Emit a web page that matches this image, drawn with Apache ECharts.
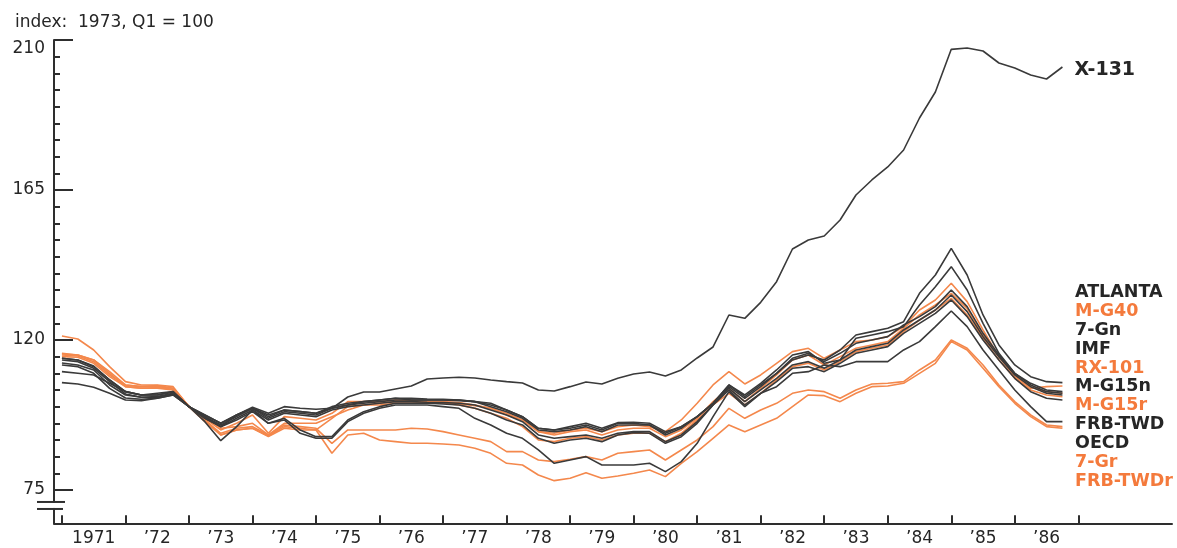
<!DOCTYPE html>
<html>
<head>
<meta charset="utf-8">
<script src="https://cdn.jsdelivr.net/npm/echarts@6/dist/echarts.min.js"></script>
<style>
  html, body { margin: 0; padding: 0; background: #ffffff; }
  #chart { width: 1177px; height: 548px; }
</style>
</head>
<body>
<div id="chart"></div>
<script>
// Exchange-rate indexes of the dollar, quarterly, 1971 Q1 .. 1986 Q4 (index: 1973 Q1 = 100)
const startYear = 1971;
const yearLabels = ['1971', '\u201972', '\u201973', '\u201974', '\u201975', '\u201976', '\u201977', '\u201978',
                    '\u201979', '\u201980', '\u201981', '\u201982', '\u201983', '\u201984', '\u201985', '\u201986'];
const yMajorTicks = [75, 120, 165, 210];
const yMinorTicks = [75, 80, 85, 90, 95, 100, 105, 110, 115, 120, 125, 130, 135, 140, 145, 150,
                     155, 160, 165, 170, 175, 180, 185, 190, 195, 200, 205, 210];

const x131 = [107.2, 106.8, 105.8, 104, 102, 101.8, 102.5, 103.5,
  100, 97.5, 95, 97.5, 99.8, 98, 100, 99.5,
  99.2, 99.5, 102.9, 104.4, 104.4, 105.3, 106.2, 108.3,
  108.6, 108.8, 108.6, 108, 107.5, 107.1, 105, 104.7,
  106, 107.4, 106.8, 108.5, 109.8, 110.4, 109.2, 111,
  114.6, 117.9, 127.5, 126.5, 131.3, 137.5, 147.3, 150,
  151.2, 156, 163.5, 168, 171.9, 177, 186.6, 194.4,
  207.2, 207.6, 206.7, 203.1, 201.6, 199.5, 198.3, 201.9];

const atlanta = [110.5, 110, 109.5, 107, 104.5, 103.5, 103.5, 104.3,
  100, 97, 94, 97.5, 99.5, 97, 99, 98.5,
  98, 100, 101, 101.5, 102, 102.5, 102, 102,
  102, 101.8, 101.5, 101, 99, 97, 93.5, 93,
  94, 95, 93.5, 95.2, 95.3, 95, 92.5, 94,
  97, 101, 106.5, 103, 106.5, 110, 114, 115.5,
  114, 117, 121.5, 122.5, 123.5, 125.5, 134, 139.5,
  147.5, 139.5, 127.5, 118.5, 112.5, 109, 107.5, 107.2];

const mg40 = [116, 115.5, 114, 110.5, 106.5, 106, 106, 105.5,
  100, 96.5, 93, 95, 97.5, 92, 97, 96.5,
  96, 98, 101.5, 101.5, 101.5, 102, 101.8, 101.5,
  101.5, 101.2, 100.5, 99.5, 98, 96, 92.5, 92,
  93, 93.5, 92.5, 94, 94.5, 94, 92.5, 96,
  101, 106.5, 110.5, 106.8, 109.5, 113, 116.5, 117.5,
  114.5, 117, 119.5, 120, 121, 124, 129, 132,
  137, 131.5, 123, 115, 109, 105.5, 106, 106.2];

const g7n = [114.5, 114, 112.2, 108, 104.5, 103.5, 104, 104.5,
  100, 97.5, 95, 97.5, 99.5, 97.5, 99, 98.5,
  98, 99.5, 100.5, 101.5, 102, 102.5, 102.5, 102.3,
  102.2, 102, 101.5, 100.5, 99, 97, 93.5, 93,
  93.5, 94.5, 93, 95, 95, 94.5, 92, 94,
  97, 101, 106.5, 103.5, 107, 111, 115.5, 116.5,
  113, 114, 120.5, 121.5, 122.5, 124, 130.5, 136,
  142, 135, 125, 116, 110, 107, 105, 104.5];

const imf = [114.5, 114, 112, 108, 104.5, 103.5, 103.5, 104.5,
  100, 97, 94.5, 97, 99.5, 96.5, 98.5, 98,
  97.5, 99.5, 100.5, 101, 101.5, 102, 102, 102,
  102, 102, 101.5, 100, 98.5, 96.5, 93, 92.5,
  93, 94, 92.5, 94.5, 94.5, 94.5, 91.5, 93.5,
  97, 101, 106, 102.5, 106, 110, 114.5, 116,
  113.5, 116, 119, 120, 121, 124.5, 127, 130,
  135, 130, 122, 115.5, 110, 106.5, 104.5, 104];

const rx101 = [121.2, 120.3, 117, 112, 107.5, 106.5, 106.5, 106,
  100, 97, 93.5, 94, 95, 91.5, 95, 95,
  95, 97, 99, 100.5, 101, 101.5, 101.5, 101.3,
  101, 100.8, 100.3, 99.5, 97.5, 96, 92.5, 91.5,
  92.5, 93, 91.5, 93, 93.5, 93.5, 91, 93,
  96.5, 101.5, 105.5, 101.5, 105.5, 109.5, 114, 115.5,
  112.5, 115, 117.5, 118.5, 119.5, 123.5, 127.5, 130.5,
  134, 129.5, 121.5, 115, 109.5, 106, 104.5, 104];

const mg15n = [113.1, 112.5, 111, 106.5, 103.5, 102.8, 102.8, 103.8,
  100, 96.5, 94, 96.5, 99, 96, 98, 97.5,
  97, 99, 100, 100.5, 101, 101.5, 101.5, 101.3,
  101.2, 101, 100.5, 99, 97.5, 95.5, 91.5, 90.5,
  91, 91.5, 90.5, 92, 92.5, 92.5, 89.5, 91.5,
  95.5, 100.5, 105.5, 101.5, 105, 108.5, 112.5, 113.5,
  111.5, 114, 117, 118, 119, 123, 126, 129,
  133.5, 128.5, 121, 115, 109.5, 106, 104, 103.5];

const mg15r = [115.8, 115.5, 114, 110, 106, 105.5, 105.5, 105,
  100, 96, 91.5, 93, 93.5, 91.2, 94, 93.5,
  93, 96.5, 100, 100.5, 100.5, 101, 101, 101,
  101, 100.5, 99.5, 98, 96.5, 94, 90, 89.5,
  90.5, 91, 90, 91.5, 92, 92, 89.5, 92,
  96, 100.5, 104, 100.5, 104, 108, 112, 113,
  111, 113.5, 116.5, 117.5, 118.5, 122.5, 126, 129,
  132.5, 127.5, 120.5, 114, 108.5, 105, 103.5, 103];

const frbTwd = [114, 113.5, 111.5, 107.5, 103.8, 102.8, 103, 104,
  100, 95.5, 89.8, 94, 99, 95, 96, 92,
  90.5, 90.5, 95.5, 98, 99.5, 100.5, 100.5, 100.5,
  100, 99.5, 96.5, 94.5, 92, 90.5, 87, 83,
  84, 85, 82.5, 82.5, 82.5, 83, 80.5, 83.5,
  89, 97, 104.5, 100, 104, 106, 110, 110.5,
  112.5, 112, 113.5, 113.5, 113.5, 117, 119.5, 124,
  128.7, 124, 117, 111, 105, 100, 95.5, 95.5];

const oecd = [112.5, 112, 110, 105.5, 102.6, 102.2, 102.5, 103.5,
  100, 96.5, 94, 96, 98.5, 95, 96.5, 93,
  91, 91, 96, 98.5, 100, 101, 101, 101,
  100.8, 100.5, 99.5, 98, 96, 94.5, 90.5, 89,
  90, 90.5, 89.5, 91.5, 92.2, 92, 89, 91,
  95, 100.5, 105, 100.5, 104, 107.5, 111.5, 112,
  110.5, 113, 116, 117, 118, 122, 125, 128,
  132, 127, 120, 114, 108.5, 104.5, 102.5, 102];

const g7r = [115.5, 115.2, 113.5, 109.5, 106.5, 106, 106.3, 105.5,
  100, 96, 92, 93.5, 94, 91.5, 94.5, 94,
  93.5, 89, 93, 93, 93, 93, 93.5, 93.3,
  92.5, 91.5, 90.5, 89.5, 86.5, 86.5, 84, 83.5,
  84.2, 85, 84, 86, 86.5, 87, 84, 87,
  90, 94, 99.5, 96.5, 99, 101, 104, 105,
  104.5, 102.5, 105, 106.8, 107, 107.5, 111, 114,
  120, 117.5, 112.5, 106.5, 101.5, 97.5, 94.5, 94];

const frbTwdr = [115, 114.8, 113, 109, 106, 105.5, 105.7, 105.2,
  100, 95.5, 91.5, 93, 93.5, 91, 93.5, 93,
  93, 86, 91.5, 92, 90, 89.5, 89, 89,
  88.8, 88.5, 87.5, 86, 83, 82.5, 79.5, 77.8,
  78.5, 80.2, 78.5, 79.2, 80, 81, 79, 83,
  86.5, 90.5, 94.5, 92.5, 94.5, 96.5, 100, 103.5,
  103.3, 101.5, 104, 106, 106.2, 107, 110, 113,
  119.5, 117, 111.5, 106, 101, 97, 94, 93.5];

const DARK = '#3a3a3a';
const ORANGE = '#f4884c';
const TEXT_DARK = '#262626';
const TEXT_ORANGE = '#f47a3c';
const FONT = 'DejaVu Sans';

// Series listed in the order of the name column on the right
const seriesList = [
  { name: 'ATLANTA',  values: atlanta, kind: 'n' },
  { name: 'M-G40',    values: mg40,    kind: 'r' },
  { name: '7-Gn',     values: g7n,     kind: 'n' },
  { name: 'IMF',      values: imf,     kind: 'n' },
  { name: 'RX-101',   values: rx101,   kind: 'r' },
  { name: 'M-G15n',   values: mg15n,   kind: 'n' },
  { name: 'M-G15r',   values: mg15r,   kind: 'r' },
  { name: 'FRB-TWD',  values: frbTwd,  kind: 'n' },
  { name: 'OECD',     values: oecd,    kind: 'n' },
  { name: '7-Gr',     values: g7r,     kind: 'r' },
  { name: 'FRB-TWDr', values: frbTwdr, kind: 'r' }
];

// x position of each observation: quarter count since 1971 Q1
const toPoints = vals => vals.map((v, i) => [i, v]);
const yearTickPositions = yearLabels.map((_, k) => 4 * k).concat([4 * yearLabels.length]);
const yearLabelPositions = yearLabels.map((_, k) => 4 * k + 2);

const lineSeries = (name, values, color, extra) => Object.assign({
  name: name,
  type: 'line',
  data: toPoints(values),
  symbol: 'none',
  showSymbol: false,
  silent: true,
  lineStyle: { color: color, width: 1.6 },
  itemStyle: { color: color },
  emphasis: { disabled: true },
  z: color === ORANGE ? 2 : 3
}, extra || {});

const series = [];
// orange (real) indexes drawn underneath the black (nominal) ones
seriesList.filter(s => s.kind === 'r').forEach(s => series.push(lineSeries(s.name, s.values, ORANGE)));
seriesList.filter(s => s.kind === 'n').forEach(s => series.push(lineSeries(s.name, s.values, DARK)));
series.push(lineSeries('X-131', x131, DARK, {
  endLabel: {
    show: true,
    formatter: p => p.seriesName,
    distance: 12,
    offset: [0, 3],
    color: TEXT_DARK,
    fontFamily: FONT,
    fontWeight: 'bold',
    fontSize: 19
  }
}));

const axisLineStyle = { color: '#2e2e2e', width: 2 };

const chart = echarts.init(document.getElementById('chart'), null, { renderer: 'canvas' });
chart.setOption({
  animation: false,
  backgroundColor: '#ffffff',
  title: {
    text: 'index:  1973, Q1 = 100',
    left: 10,
    top: 9,
    textStyle: { fontFamily: FONT, fontSize: 17, fontWeight: 'normal', color: TEXT_DARK }
  },
  grid: { left: 54, right: 5, top: 40, bottom: 24.7, containLabel: false, outerBoundsMode: 'none' },
  legend: {
    orient: 'vertical',
    left: 1065,
    top: 278,
    icon: 'none',
    itemWidth: 0,
    itemHeight: 10,
    itemGap: 0,
    selectedMode: false,
    textStyle: { fontFamily: FONT, fontWeight: 'bold', fontSize: 17.5, lineHeight: 18.9 },
    data: seriesList.map(s => ({
      name: s.name,
      icon: 'none',
      textStyle: { color: s.kind === 'r' ? TEXT_ORANGE : TEXT_DARK }
    }))
  },
  xAxis: {
    type: 'value',
    min: -0.5,
    max: 69.9,
    axisLine: { show: true, onZero: false, lineStyle: axisLineStyle },
    axisTick: { show: true, inside: true, length: 8, customValues: yearTickPositions, lineStyle: axisLineStyle },
    axisLabel: {
      show: true,
      customValues: yearLabelPositions,
      formatter: v => yearLabels[Math.round((v - 2) / 4)],
      margin: 7,
      fontFamily: FONT,
      fontSize: 17,
      color: TEXT_DARK
    },
    splitLine: { show: false }
  },
  yAxis: [
    {
      type: 'value',
      min: 65,
      max: 210,
      position: 'left',
      axisLine: { show: true, onZero: false, lineStyle: axisLineStyle },
      axisTick: { show: true, inside: true, length: 6, customValues: yMinorTicks, lineStyle: axisLineStyle },
      axisLabel: {
        show: true,
        customValues: yMajorTicks,
        margin: 9,
        fontFamily: FONT,
        fontSize: 17,
        color: TEXT_DARK,
        // the top value sits just under its tick
        formatter: v => (v === 210 ? '{top|' + v + '}' : String(v)),
        rich: { top: { fontFamily: FONT, fontSize: 17, color: TEXT_DARK, padding: [18, 0, 0, 0] } }
      },
      splitLine: { show: false }
    },
    {
      type: 'value',
      min: 65,
      max: 210,
      position: 'left',
      offset: 0,
      axisLine: { show: false, onZero: false },
      axisTick: { show: true, inside: true, length: 19, customValues: yMajorTicks, lineStyle: axisLineStyle },
      axisLabel: { show: false },
      splitLine: { show: false }
    }
  ],
  series: series
});

// scale break on the value axis just below 75
const axisX = chart.convertToPixel({ xAxisIndex: 0 }, -0.5);
const breakTop = chart.convertToPixel({ yAxisIndex: 0 }, 71.4);
const breakBottom = chart.convertToPixel({ yAxisIndex: 0 }, 69.3);
chart.setOption({
  graphic: [
    { type: 'rect', shape: { x: axisX - 3, y: breakTop + 1, width: 6, height: breakBottom - breakTop - 2 },
      style: { fill: '#ffffff' }, z: 100 },
    { type: 'line', shape: { x1: axisX - 17, y1: breakTop, x2: axisX + 11, y2: breakTop },
      style: { stroke: '#2e2e2e', lineWidth: 2 }, z: 101 },
    { type: 'line', shape: { x1: axisX - 17, y1: breakBottom, x2: axisX + 9, y2: breakBottom },
      style: { stroke: '#2e2e2e', lineWidth: 2 }, z: 101 }
  ]
});
</script>
</body>
</html>
